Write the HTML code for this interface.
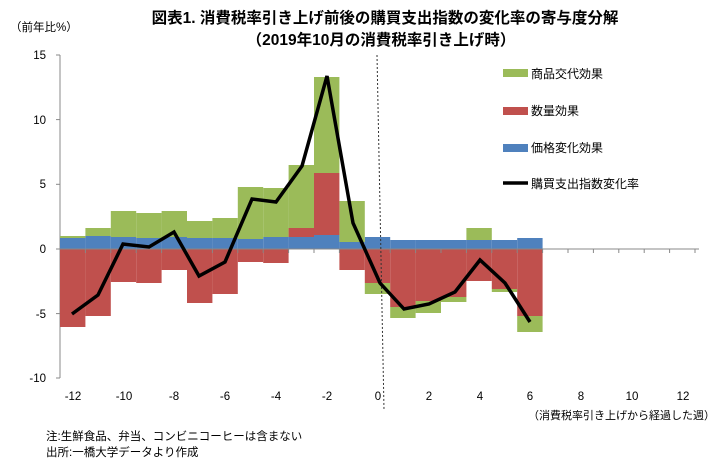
<!DOCTYPE html>
<html><head><meta charset="utf-8"><style>
body{margin:0;background:#fff;}
svg{display:block;font-family:"Liberation Sans","Noto Sans CJK JP",sans-serif;}
</style></head><body>
<svg width="719" height="467" viewBox="0 0 719 467" xmlns="http://www.w3.org/2000/svg">
<text x="385" y="23" text-anchor="middle" font-size="15.5" font-weight="bold" fill="#000">図表1. 消費税率引き上げ前後の購買支出指数の変化率の寄与度分解</text>
<text x="381" y="45" text-anchor="middle" font-size="15.5" font-weight="bold" fill="#000">（2019年10月の消費税率引き上げ時）</text>
<text x="10" y="31" font-size="11.5" fill="#000">（前年比%）</text>
<!-- axes -->
<line x1="60" y1="55" x2="60" y2="378" stroke="#888" stroke-width="1"/>
<g stroke="#888" stroke-width="1">
<line x1="56" y1="55" x2="60" y2="55"/><line x1="56" y1="119.6" x2="60" y2="119.6"/><line x1="56" y1="184.3" x2="60" y2="184.3"/><line x1="56" y1="249" x2="60" y2="249"/><line x1="56" y1="313.6" x2="60" y2="313.6"/><line x1="56" y1="378" x2="60" y2="378"/>
</g>
<g font-size="11.5" text-anchor="end" fill="#000">
<text x="46" y="59">15</text><text x="46" y="124">10</text><text x="46" y="188">5</text><text x="46" y="253">0</text><text x="46" y="318">-5</text><text x="46" y="382">-10</text>
</g>
<!-- bars: blue -->
<g fill="#4f81bd">
<rect x="60" y="238" width="25.4" height="11"/><rect x="85.4" y="236" width="25.4" height="13"/><rect x="110.8" y="237" width="25.4" height="12"/><rect x="136.2" y="238" width="25.4" height="11"/><rect x="161.6" y="237" width="25.4" height="12"/><rect x="187" y="238" width="25.4" height="11"/><rect x="212.4" y="238" width="25.4" height="11"/><rect x="237.8" y="239" width="25.4" height="10"/><rect x="263.2" y="237" width="25.4" height="12"/><rect x="288.6" y="237" width="25.4" height="12"/><rect x="314" y="235" width="25.4" height="14"/><rect x="339.4" y="242" width="25.4" height="7"/><rect x="364.8" y="237" width="25.4" height="12"/><rect x="390.2" y="240" width="25.4" height="9"/><rect x="415.6" y="240" width="25.4" height="9"/><rect x="441" y="240" width="25.4" height="9"/><rect x="466.4" y="240" width="25.4" height="9"/><rect x="491.8" y="240" width="25.4" height="9"/><rect x="517.2" y="238" width="25.4" height="11"/>
</g>
<!-- green -->
<g fill="#9bbb59">
<rect x="60" y="236" width="25.4" height="2"/><rect x="85.4" y="228" width="25.4" height="8"/><rect x="110.8" y="211" width="25.4" height="26"/><rect x="136.2" y="213" width="25.4" height="25"/><rect x="161.6" y="211" width="25.4" height="26"/><rect x="187" y="221" width="25.4" height="17"/><rect x="212.4" y="218" width="25.4" height="20"/><rect x="237.8" y="187" width="25.4" height="52"/><rect x="263.2" y="188" width="25.4" height="49"/><rect x="288.6" y="165" width="25.4" height="63"/><rect x="314" y="77" width="25.4" height="96"/><rect x="339.4" y="201" width="25.4" height="41"/>
<rect x="364.8" y="283" width="25.4" height="11"/><rect x="390.2" y="307" width="25.4" height="11"/><rect x="415.6" y="301" width="25.4" height="12"/><rect x="441" y="297" width="25.4" height="5"/><rect x="466.4" y="228" width="25.4" height="12"/><rect x="491.8" y="289" width="25.4" height="3"/><rect x="517.2" y="316" width="25.4" height="16"/>
</g>
<!-- red -->
<g fill="#c0504d">
<rect x="60" y="249" width="25.4" height="78"/><rect x="85.4" y="249" width="25.4" height="67"/><rect x="110.8" y="249" width="25.4" height="33"/><rect x="136.2" y="249" width="25.4" height="34"/><rect x="161.6" y="249" width="25.4" height="21"/><rect x="187" y="249" width="25.4" height="54"/><rect x="212.4" y="249" width="25.4" height="45"/><rect x="237.8" y="249" width="25.4" height="13"/><rect x="263.2" y="249" width="25.4" height="14"/><rect x="288.6" y="228" width="25.4" height="9"/><rect x="314" y="173" width="25.4" height="62"/><rect x="339.4" y="249" width="25.4" height="21"/><rect x="364.8" y="249" width="25.4" height="34"/><rect x="390.2" y="249" width="25.4" height="58"/><rect x="415.6" y="249" width="25.4" height="52"/><rect x="441" y="249" width="25.4" height="48"/><rect x="466.4" y="249" width="25.4" height="32"/><rect x="491.8" y="249" width="25.4" height="40"/><rect x="517.2" y="249" width="25.4" height="67"/>
</g>
<!-- x axis -->
<line x1="60" y1="249" x2="699" y2="249" stroke="#888" stroke-width="1"/>
<g stroke="#888" stroke-width="1">
<line x1="85.4" y1="249" x2="85.4" y2="253"/><line x1="110.8" y1="249" x2="110.8" y2="253"/><line x1="136.2" y1="249" x2="136.2" y2="253"/><line x1="161.6" y1="249" x2="161.6" y2="253"/><line x1="187" y1="249" x2="187" y2="253"/><line x1="212.4" y1="249" x2="212.4" y2="253"/><line x1="237.8" y1="249" x2="237.8" y2="253"/><line x1="263.2" y1="249" x2="263.2" y2="253"/><line x1="288.6" y1="249" x2="288.6" y2="253"/><line x1="314" y1="249" x2="314" y2="253"/><line x1="339.4" y1="249" x2="339.4" y2="253"/><line x1="364.8" y1="249" x2="364.8" y2="253"/><line x1="390.2" y1="249" x2="390.2" y2="253"/><line x1="415.6" y1="249" x2="415.6" y2="253"/><line x1="441" y1="249" x2="441" y2="253"/><line x1="466.4" y1="249" x2="466.4" y2="253"/><line x1="491.8" y1="249" x2="491.8" y2="253"/><line x1="517.2" y1="249" x2="517.2" y2="253"/><line x1="542.6" y1="249" x2="542.6" y2="253"/><line x1="568" y1="249" x2="568" y2="253"/><line x1="593.4" y1="249" x2="593.4" y2="253"/><line x1="618.8" y1="249" x2="618.8" y2="253"/><line x1="644.2" y1="249" x2="644.2" y2="253"/><line x1="669.6" y1="249" x2="669.6" y2="253"/><line x1="695" y1="249" x2="695" y2="253"/>
</g>
<line x1="377" y1="55" x2="384" y2="410" stroke="#333" stroke-width="1" stroke-dasharray="2,2"/>
<g font-size="11.5" text-anchor="middle" fill="#000">
<text x="73" y="400">-12</text><text x="124" y="400">-10</text><text x="174" y="400">-8</text><text x="225" y="400">-6</text><text x="276" y="400">-4</text><text x="327" y="400">-2</text><text x="378" y="400">0</text><text x="429" y="400">2</text><text x="480" y="400">4</text><text x="530" y="400">6</text><text x="581" y="400">8</text><text x="632" y="400">10</text><text x="683" y="400">12</text>
</g>
<text x="715" y="419" text-anchor="end" font-size="11" fill="#000">（消費税率引き上げから経過した週）</text>
<!-- line -->
<polyline fill="none" stroke="#000" stroke-width="3.5" stroke-linejoin="miter" points="72,314 98,295 123,244 149,247 174,232 199,276 225,262 252,199 276,202 302,166 327,76 353,223 380,283 404,309 429,304 455,292 480,260 505,283 530,322"/>
<!-- legend -->
<rect x="503" y="69" width="25" height="8" fill="#9bbb59"/><text x="531" y="78" font-size="12">商品交代効果</text>
<rect x="503" y="107" width="25" height="8" fill="#c0504d"/><text x="531" y="115" font-size="12">数量効果</text>
<rect x="503" y="144" width="25" height="8" fill="#4f81bd"/><text x="531" y="152" font-size="12">価格変化効果</text>
<line x1="503" y1="183" x2="528" y2="183" stroke="#000" stroke-width="3.5"/><text x="531" y="188" font-size="12">購買支出指数変化率</text>
<text x="46" y="440" font-size="11.5">注:生鮮食品、弁当、コンビニコーヒーは含まない</text>
<text x="46" y="456" font-size="11.5">出所:一橋大学データより作成</text>
</svg>
</body></html>
